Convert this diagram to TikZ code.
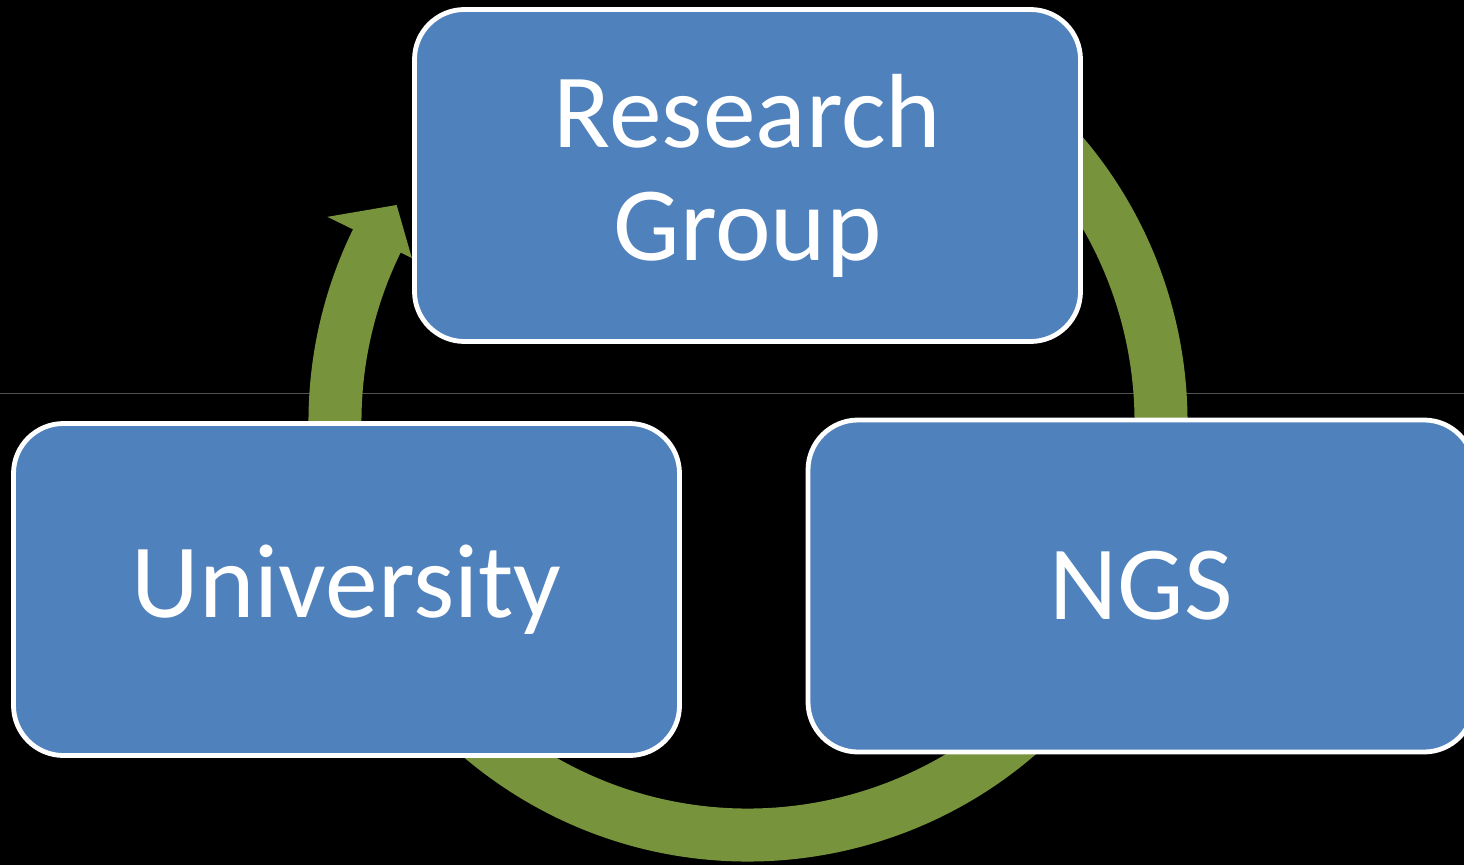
\documentclass[tikz,border=0pt]{standalone}
\usepackage{fontspec}
\setmainfont{Carlito}
\definecolor{boxblue}{RGB}{79,129,189}
\definecolor{ringgreen}{RGB}{119,147,60}
\definecolor{rulegray}{RGB}{80,80,80}
\begin{document}
\begin{tikzpicture}[
  group/.style={draw=white,line width=0.048cm,fill=boxblue,rounded corners=0.5cm,
    minimum width=6.66cm,minimum height=3.32cm,text=white,align=center,
    font=\fontsize{30}{33}\selectfont},
  ring/.style={draw=ringgreen,line width=0.53cm}]
\fill [black](0,0) rectangle (14.64,8.65);
\useasboundingbox (0,0) rectangle (14.64,8.65);
\draw [rulegray,line width=0.01cm](0,4.72) -- (14.64,4.72);
\coordinate (ctr) at (7.48,4.43);
\draw [ring]([shift={(55:4.13)}]ctr) arc [start angle=55,end angle=-207,radius=4.13];
\fill [ringgreen]([shift={(154:4.68)}]ctr) -- ([shift={(148.3:4.13)}]ctr) -- ([shift={(154:3.74)}]ctr) -- cycle;
\node [group] (research) at (7.475,6.895) {\raisebox{-0.03cm}{Research}\\Group};
\node [group] (university) at (3.465,2.755) {University};
\node [group] (ngs) at (11.41,2.79) {NGS};
\end{tikzpicture}
\end{document}
